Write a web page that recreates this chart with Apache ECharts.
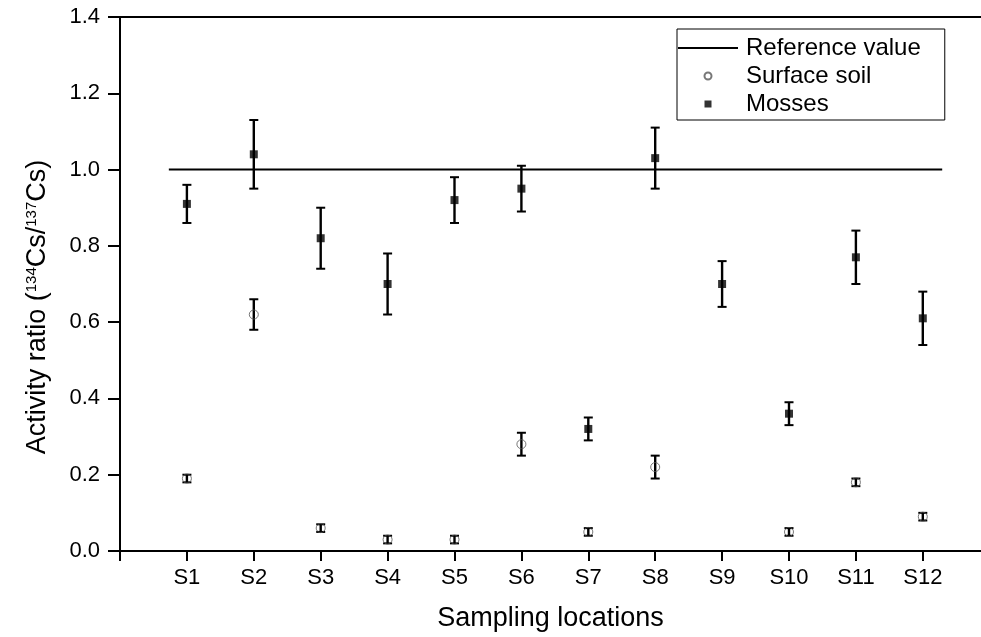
<!DOCTYPE html>
<html>
<head>
<meta charset="utf-8">
<script src="https://cdn.jsdelivr.net/npm/echarts@6/dist/echarts.min.js"></script>
<style>html,body{margin:0;padding:0;background:#fff;}#c{width:981px;height:637px;}</style>
</head>
<body>
<div id="c"></div>
<script>
const categories = ['S1','S2','S3','S4','S5','S6','S7','S8','S9','S10','S11','S12'];
const yTicks = [0.0, 0.2, 0.4, 0.6, 0.8, 1.0, 1.2, 1.4];
const mossVal  = [0.91, 1.04, 0.82, 0.70, 0.92, 0.95, 0.32, 1.03, 0.70, 0.36, 0.77, 0.61];
const mossLow  = [0.86, 0.95, 0.74, 0.62, 0.86, 0.89, 0.29, 0.95, 0.64, 0.33, 0.70, 0.54];
const mossHigh = [0.96, 1.13, 0.90, 0.78, 0.98, 1.01, 0.35, 1.11, 0.76, 0.39, 0.84, 0.68];
const soilVal  = [0.19, 0.62, 0.06, 0.03, 0.03, 0.28, 0.05, 0.22, null, 0.05, 0.18, 0.09];
const soilLow  = [0.18, 0.58, 0.05, 0.02, 0.02, 0.25, 0.04, 0.19, null, 0.04, 0.17, 0.08];
const soilHigh = [0.20, 0.66, 0.07, 0.04, 0.04, 0.31, 0.06, 0.25, null, 0.06, 0.19, 0.10];
const refValue = 1.0;
const refSpan = [0.73, 12.29];

const FONT = '"Liberation Sans", Arial, sans-serif';
const chart = echarts.init(document.getElementById('c'));

const xTickValues = [0].concat(categories.map((c, i) => i + 1));

function pts(vals) {
  return vals.map((v, i) => v == null ? null : [i + 1, v]).filter(d => d);
}
function errs(lo, hi) {
  return lo.map((l, i) => l == null ? null : [i + 1, l, hi[i]]).filter(d => d);
}
function errRender(params, api) {
  const x = api.value(0);
  const p1 = api.coord([x, api.value(1)]);
  const p2 = api.coord([x, api.value(2)]);
  const w = 4.5;
  const st = { stroke: '#000', lineWidth: 2 };
  return {
    type: 'group',
    children: [
      { type: 'line', shape: { x1: p1[0], y1: p1[1], x2: p2[0], y2: p2[1] }, style: { stroke: '#000', lineWidth: 2.4 } },
      { type: 'line', shape: { x1: p1[0] - w, y1: p1[1], x2: p1[0] + w, y2: p1[1] }, style: st },
      { type: 'line', shape: { x1: p2[0] - w, y1: p2[1], x2: p2[0] + w, y2: p2[1] }, style: st }
    ]
  };
}

chart.setOption({
  animation: false,
  backgroundColor: '#fff',
  textStyle: { fontFamily: FONT },
  grid: { left: 120, right: 0, top: 17, bottom: 86, containLabel: false },
  legend: {
    orient: 'vertical',
    left: 677, top: 29,
    padding: [7, 24, 4, 0],
    itemWidth: 60, itemHeight: 7,
    itemGap: 4,
    borderColor: '#000', borderWidth: 1,
    textStyle: { fontFamily: FONT, fontSize: 24, color: '#000', lineHeight: 24, padding: [0, 0, 0, 3] },
    data: [
      { name: 'Reference value', itemStyle: { opacity: 0 } },
      { name: 'Surface soil', icon: 'circle' },
      { name: 'Mosses', icon: 'path://M0,0H10V10H0Z' }
    ]
  },
  xAxis: [{
    type: 'value', min: 0, max: 12.87,
    name: 'Sampling locations', nameLocation: 'middle', nameGap: 54,
    nameTextStyle: { fontFamily: FONT, fontSize: 27, color: '#000' },
    axisLine: { show: true, onZero: false, lineStyle: { color: '#000', width: 2 } },
    axisTick: { show: true, inside: false, length: 10, customValues: xTickValues, lineStyle: { color: '#000', width: 2 } },
    axisLabel: {
      margin: 16, fontFamily: FONT, fontSize: 22, color: '#000',
      customValues: xTickValues,
      formatter: v => (v >= 1 && v <= categories.length) ? categories[Math.round(v) - 1] : ''
    },
    splitLine: { show: false }
  }, {
    type: 'value', position: 'top', min: 0, max: 12.87,
    axisLine: { show: true, onZero: false, lineStyle: { color: '#000', width: 2 } },
    axisTick: { show: false }, axisLabel: { show: false }, splitLine: { show: false }
  }],
  yAxis: {
    type: 'value', min: 0, max: 1.4, interval: 0.2,
    name: '{a|Activity ratio (}{s|134}{a|Cs/}{s|137}{a|Cs)}',
    nameLocation: 'middle', nameRotate: 90, nameGap: 69,
    nameTextStyle: {
      padding: [0, 46, 0, 0],
      rich: {
        a: { fontFamily: FONT, fontSize: 27, color: '#000' },
        s: { fontFamily: FONT, fontSize: 15, color: '#000', verticalAlign: 'top' }
      }
    },
    axisLine: { show: true, lineStyle: { color: '#000', width: 2 } },
    axisTick: { show: true, length: 12, lineStyle: { color: '#000', width: 2 } },
    axisLabel: {
      margin: 20, fontFamily: FONT, fontSize: 22, color: '#000',
      formatter: v => yTicks.some(t => Math.abs(t - v) < 1e-9) ? v.toFixed(1) : ''
    },
    splitLine: { show: false }
  },
  series: [
    {
      name: 'Reference value', type: 'line', symbol: 'none',
      lineStyle: { color: '#000', width: 2 },
      itemStyle: { color: '#000' },
      data: refSpan.map(x => [x, refValue]), z: 2
    },
    {
      name: 'Surface soil', type: 'scatter', symbol: 'circle', symbolSize: 9,
      itemStyle: { color: 'rgba(255,255,255,0)', borderColor: '#555', borderWidth: 1 },
      data: pts(soilVal), z: 3
    },
    {
      name: 'Mosses', type: 'scatter', symbol: 'rect', symbolSize: 8,
      itemStyle: { color: '#000' },
      data: pts(mossVal), z: 4
    },
    {
      type: 'custom', renderItem: errRender, data: errs(mossLow, mossHigh), z: 3,
      encode: { x: 0, y: [1, 2] }
    },
    {
      type: 'custom', renderItem: errRender, data: errs(soilLow, soilHigh), z: 3,
      encode: { x: 0, y: [1, 2] }
    }
  ]
});
</script>
</body>
</html>
